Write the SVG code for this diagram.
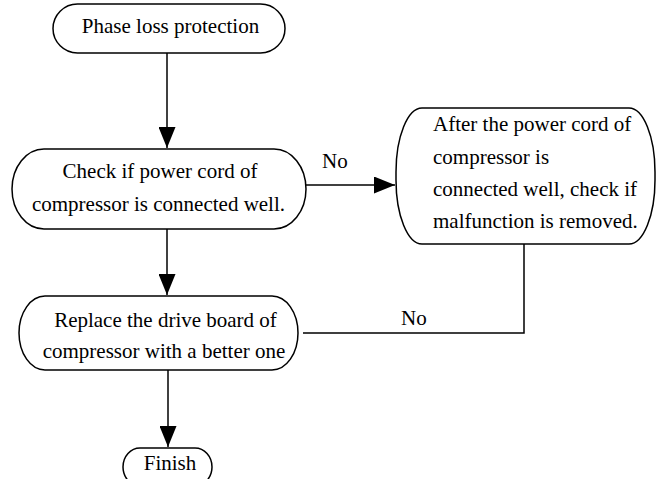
<svg xmlns="http://www.w3.org/2000/svg" width="656" height="479" viewBox="0 0 656 479">
<style>
.n{fill:#fff;stroke:#000;stroke-width:1.5}
.t{font-family:"Liberation Serif","Times New Roman",serif;font-size:21px;fill:#000}
.c{text-anchor:middle}
.l{fill:none;stroke:#000;stroke-width:1.5}
</style>
<defs>
<marker id="ah" markerWidth="21" markerHeight="17" refX="21" refY="8.5" orient="auto" markerUnits="userSpaceOnUse" viewBox="0 0 21 17">
<path d="M0,0 L21,8.5 L0,17 Z" fill="#000"/>
</marker>
</defs>
<rect width="656" height="479" fill="#fff"/>
<g id="connectors">
<line class="l" x1="167" y1="53" x2="167" y2="148" marker-end="url(#ah)"/>
<line class="l" x1="167" y1="229" x2="167" y2="295" marker-end="url(#ah)"/>
<line class="l" x1="168" y1="370" x2="168" y2="447" marker-end="url(#ah)"/>
<line class="l" x1="306" y1="185" x2="395" y2="185" marker-end="url(#ah)"/>
<polyline class="l" points="524,244 524,333 303,333"/>
<text class="t" x="322" y="168">No</text>
<text class="t" x="401" y="325">No</text>
</g>
<g id="start">
<rect class="n" x="53" y="4" width="232" height="49" rx="24.5" ry="24.5"/>
<text class="t c" x="170.5" y="33">Phase loss protection</text>
</g>
<g id="check">
<rect class="n" x="12" y="149" width="294" height="80" rx="32" ry="40"/>
<text class="t c" x="160" y="178">Check if power cord of</text>
<text class="t c" x="158.5" y="211">compressor is connected well.</text>
</g>
<g id="after">
<rect class="n" x="396" y="108" width="259" height="136" rx="26" ry="64"/>
<text class="t" x="433" y="131">After the power cord of</text>
<text class="t" x="433" y="164">compressor is</text>
<text class="t" x="433" y="196">connected well, check if</text>
<text class="t" x="433" y="228">malfunction is removed.</text>
</g>
<g id="replace">
<rect class="n" x="19" y="296" width="279" height="74" rx="26" ry="37"/>
<text class="t c" x="165.5" y="327">Replace the drive board of</text>
<text class="t c" x="164" y="358">compressor with a better one</text>
</g>
<g id="finish">
<rect class="n" x="123" y="448" width="89" height="38" rx="17" ry="19"/>
<text class="t c" x="170" y="470">Finish</text>
</g>
</svg>
